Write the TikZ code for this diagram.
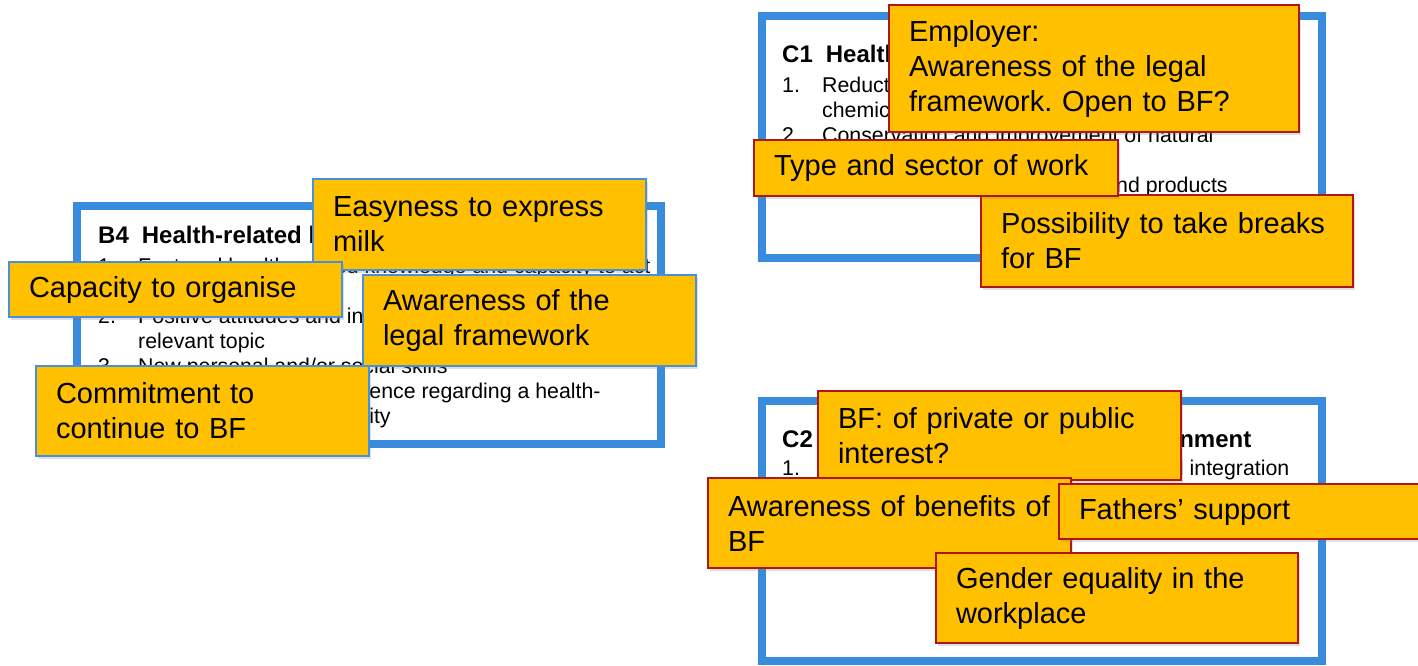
\documentclass[tikz,border=0pt]{standalone}
\usepackage{fontspec}
\setmainfont{Liberation Sans}
\usetikzlibrary{shadows}
\frenchspacing

\definecolor{frameblue}{RGB}{56,139,221}
\definecolor{noteorange}{RGB}{255,192,0}
\definecolor{noteblue}{RGB}{70,144,220}
\definecolor{notered}{RGB}{176,22,22}

\newcommand{\notesize}{\fontsize{29}{35}\selectfont}
\newcommand{\headsize}{\fontsize{24}{28}\selectfont\bfseries}
\newcommand{\listsize}{\fontsize{21.33}{25}\selectfont}

\begin{document}
\begin{tikzpicture}[
  x=1pt, y=-1pt,
  topicbox/.style={draw=frameblue, line width=8pt, fill=white, inner sep=0pt,
                   outer sep=0pt, anchor=north west},
  head/.style={anchor=base west, inner sep=0pt, font=\headsize},
  items/.style={anchor=base west, inner sep=0pt, font=\listsize},
  note/.style={fill=noteorange, line width=1.6pt, inner xsep=20pt, inner ysep=0pt,
               outer sep=0pt, anchor=north west, align=left, font=\notesize,
               drop shadow={shadow xshift=2pt, shadow yshift=-3pt, opacity=.25}},
  bluenote/.style={note, draw=noteblue},
  rednote/.style={note, draw=notered}
]
\useasboundingbox (0,0) rectangle (1418,665);

% outcome frames
\node[topicbox, minimum width=584pt, minimum height=238pt] (b4) at (77,206) {};
\node[topicbox, minimum width=560pt, minimum height=242pt] (c1) at (762,16) {};
\node[topicbox, minimum width=560pt, minimum height=260pt] (c2) at (762,401) {};

\node[head] (b4head) at (98,243) {B4\hspace{13pt}Health-related life skills};
\node[items] (b4list) at (98,273) {\begin{tabular}[t]{@{}p{40pt}@{}l@{}}
  1. & Fostered health-related knowledge and capacity to act \\
     & in everyday life \\
  2. & Positive attitudes and interest regarding a health- \\
     & relevant topic \\
  3. & New personal and/or social skills \\
  4. & Strengthened self-confidence regarding a health- \\
     & relevant practice or activity
\end{tabular}};

\node[head] (c1head) at (782,62) {C1\hspace{13pt}Health-promoting physical environment};
\node[items] (c1list) at (782,92) {\begin{tabular}[t]{@{}p{40pt}@{}l@{}}
  1. & Reduction of exposure to physical and \\
     & chemical hazards \\
  2. & Conservation and improvement of natural \\
     & resources \\
  3. & Health-promoting procedures and products
\end{tabular}};

\node[head] (c2head) at (782,447) {C2\hspace{13pt}Health-promoting social environment};
\node[items] (c2list) at (782,475) {\begin{tabular}[t]{@{}p{40pt}@{}l@{}}
  1. & Promotion of societal participation and integration
\end{tabular}};

% sticky notes, B4
\node[bluenote, text width=293pt, minimum height=91pt] (milk) at (313,179) {Easyness to express\\milk};
\node[bluenote, text width=293pt, minimum height=55pt] (organise) at (9,262) {Capacity to organise};
\node[bluenote, text width=293pt, minimum height=91pt] (lawb4) at (363,275) {Awareness of the\\legal framework};
\node[bluenote, text width=293pt, minimum height=90pt] (commit) at (36,366) {Commitment to\\continue to BF};

% sticky notes, C1
\node[rednote, text width=370pt, minimum height=127pt] (employer) at (889,5) {Employer:\\Awareness of the legal\\framework. Open to BF?};
\node[rednote, text width=332pt, minimum height=92pt] (breaks) at (981,195) {Possibility to take breaks\\for BF};
\node[rednote, text width=324pt, minimum height=56pt] (sector) at (754,140) {Type and sector of work};

% sticky notes, C2
\node[rednote, text width=323pt, minimum height=89pt] (interest) at (818,391) {BF: of private or public\\interest?};
\node[rednote, text width=323pt, minimum height=90pt] (benefits) at (708,478) {Awareness of benefits of\\BF};
\node[rednote, text width=340pt, minimum height=55pt] (fathers) at (1059,484) {Fathers’ support};
\node[rednote, text width=322pt, minimum height=90pt] (gender) at (936,553) {Gender equality in the\\workplace};
\end{tikzpicture}
\end{document}
